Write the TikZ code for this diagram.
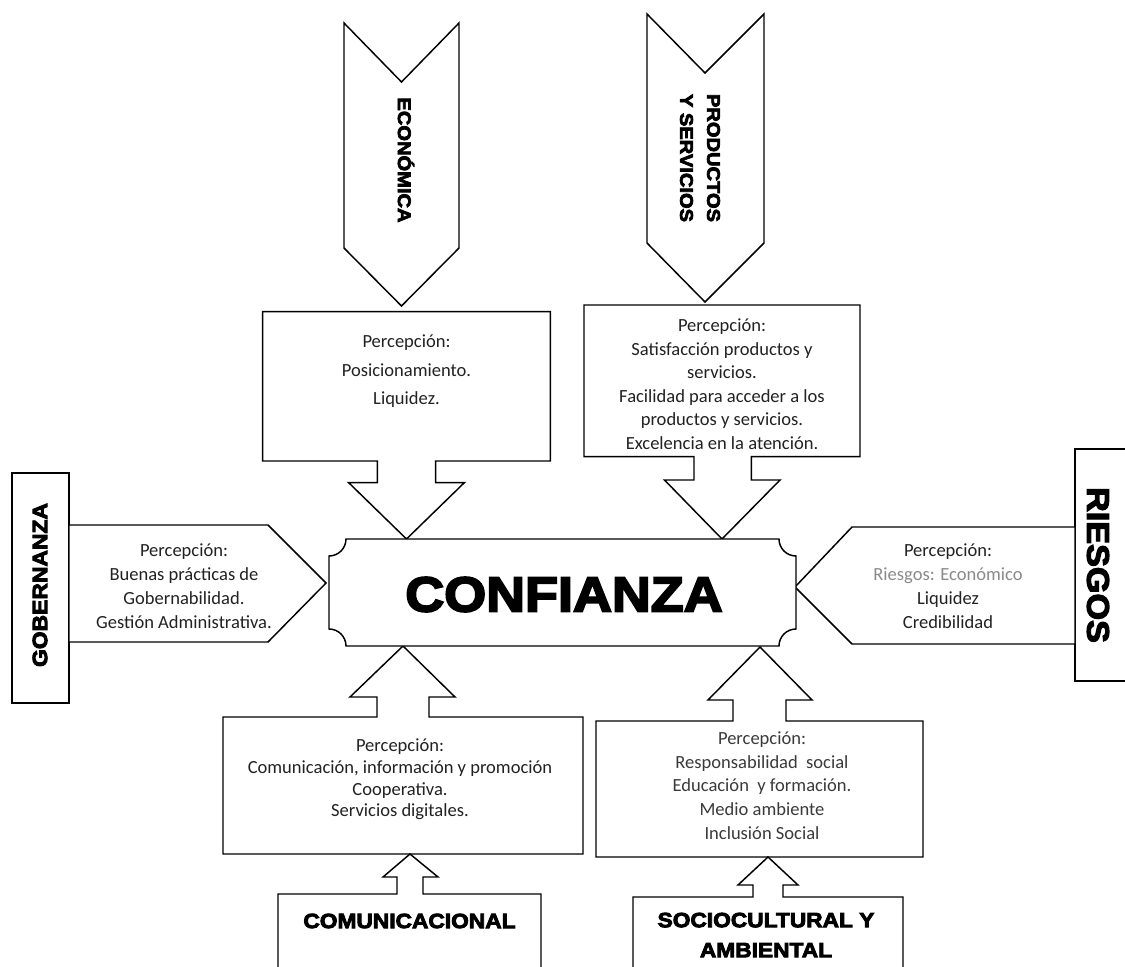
\documentclass[tikz,border=0pt]{standalone}
\usepackage{fontspec}
\newfontfamily\bodyfont{Carlito}
\newfontfamily\blackfont{Liberation Sans Bold}[FakeBold=4,FakeStretch=1.1]
\definecolor{txt}{HTML}{222222}
\definecolor{lightt}{HTML}{8A8A8A}
\definecolor{midt}{HTML}{3A3A3A}
\begin{document}
\begin{tikzpicture}[x=0.75pt,y=-0.75pt,
  shp/.style={draw=black,line width=1.1pt,fill=white,line join=miter},
  body/.style={text=txt,align=center,inner sep=0pt},
  ttl/.style={text=black,align=center,inner sep=0pt}]
\useasboundingbox (0,0) rectangle (1125,967);
\fill[white] (0,0) rectangle (1125,967);

% top chevrons
\draw[shp] (344,23) -- (401.5,82) -- (459,23) -- (459,248) -- (401.5,306) -- (344,248) -- cycle;
\draw[shp] (647,14) -- (705,73) -- (764,14) -- (764,243) -- (705,302) -- (647,243) -- cycle;

% top callouts
\draw[shp] (262.6,311.7) -- (550.4,311.7) -- (550.4,461) -- (435.6,461) -- (435.6,482.7) -- (464.3,482.7) -- (406.5,539) -- (348.7,482.7) -- (377.4,482.7) -- (377.4,461) -- (262.6,461) -- cycle;
\draw[shp] (584,305) -- (860,305) -- (860,456.7) -- (751.3,456.7) -- (751.3,480) -- (780,480) -- (722,539) -- (664.5,480) -- (694,480) -- (694,456.7) -- (584,456.7) -- cycle;

% side boxes and pentagons
\draw[shp] (12,473) rectangle (69,703);
\draw[shp] (69,525) -- (268,525) -- (326,583) -- (268,642) -- (69,642) -- cycle;
\draw[shp] (1075,449) rectangle (1135,681);
\draw[shp] (1075,527) -- (852,527) -- (795,587) -- (852,644) -- (1075,644) -- cycle;

% bottom callouts
\draw[shp] (223,854) -- (583,854) -- (583,717) -- (429,717) -- (429,697) -- (455,697) -- (403,646) -- (350,697) -- (377,697) -- (377,717) -- (223,717) -- cycle;
\draw[shp] (596,857) -- (923,857) -- (923,721) -- (786,721) -- (786,700) -- (812,700) -- (760,647) -- (708,700) -- (733,700) -- (733,721) -- (596,721) -- cycle;

% bottom label boxes
\draw[shp] (278,985) -- (278,894) -- (397,894) -- (397,877) -- (383,877) -- (410,854) -- (438,877) -- (423,877) -- (423,894) -- (541,894) -- (541,985);
\draw[shp] (633,985) -- (633,897) -- (753,897) -- (753,885) -- (738,885) -- (768,857) -- (798,885) -- (783,885) -- (783,897) -- (903,897) -- (903,985);

% central plaque
\draw[shp] (346,539) -- (779,539) arc[start angle=180,end angle=90,radius=17]
  -- (796,629) arc[start angle=270,end angle=180,radius=17]
  -- (346,646) arc[start angle=0,end angle=-90,radius=17]
  -- (329,556) arc[start angle=90,end angle=0,radius=17] -- cycle;

% titles
\node[ttl,font=\blackfont\fontsize{36.75}{40}\selectfont] (conf) at (564,594.5) {CONFIANZA};
\node[ttl,rotate=-90,font=\blackfont\fontsize{13.7}{20.25}\selectfont] (eco) at (406,160) {ECONÓMICA};
\node[ttl,rotate=-90,font=\blackfont\fontsize{13.7}{20.25}\selectfont] (prod) at (700,158) {PRODUCTOS\\Y SERVICIOS};
\node[ttl,rotate=90,font=\blackfont\fontsize{15.6}{20}\selectfont] (gob) at (40,585) {GOBERNANZA};
\node[ttl,rotate=-90,font=\blackfont\fontsize{23.3}{28}\selectfont] (ries) at (1098,565) {RIESGOS};
\node[ttl,font=\blackfont\fontsize{15.5}{20}\selectfont] (com) at (409.5,921) {COMUNICACIONAL};
\node[ttl,font=\blackfont\fontsize{15.5}{22.5}\selectfont] (soc) at (766,935) {SOCIOCULTURAL Y\\AMBIENTAL};

% body texts
\node[body,font=\bodyfont\fontsize{13.9}{21.5}\selectfont] (tltext) at (406.5,371.4) {Percepción:\\Posicionamiento.\\Liquidez.};
\node[body,font=\bodyfont\fontsize{13.9}{17.7}\selectfont] (trtext) at (722,384.2) {Percepción:\\Satisfacción productos y\\servicios.\\Facilidad para acceder a los\\productos y servicios.\\Excelencia en la atención.};
\node[body,font=\bodyfont\fontsize{13.9}{18}\selectfont] (gobtext) at (184,586) {Percepción:\\Buenas prácticas de\\Gobernabilidad.\\Gestión Administrativa.};
\node[body,font=\bodyfont\fontsize{13.9}{18}\selectfont] (riestext) at (948,586) {Percepción:\\\textcolor{lightt}{Riesgos: Económico}\\Liquidez\\Credibilidad};
\node[body,font=\bodyfont\fontsize{13.9}{16.3}\selectfont] (comtext) at (400,779.5) {Percepción:\\Comunicación, información y promoción\\Cooperativa.\\Servicios digitales.};
\node[body,text=midt,font=\bodyfont\fontsize{13.9}{17.8}\selectfont] (soctext) at (762,785.5) {Percepción:\\Responsabilidad\ \ social\\Educación\ \ y formación.\\Medio ambiente\\Inclusión Social};
\end{tikzpicture}
\end{document}
